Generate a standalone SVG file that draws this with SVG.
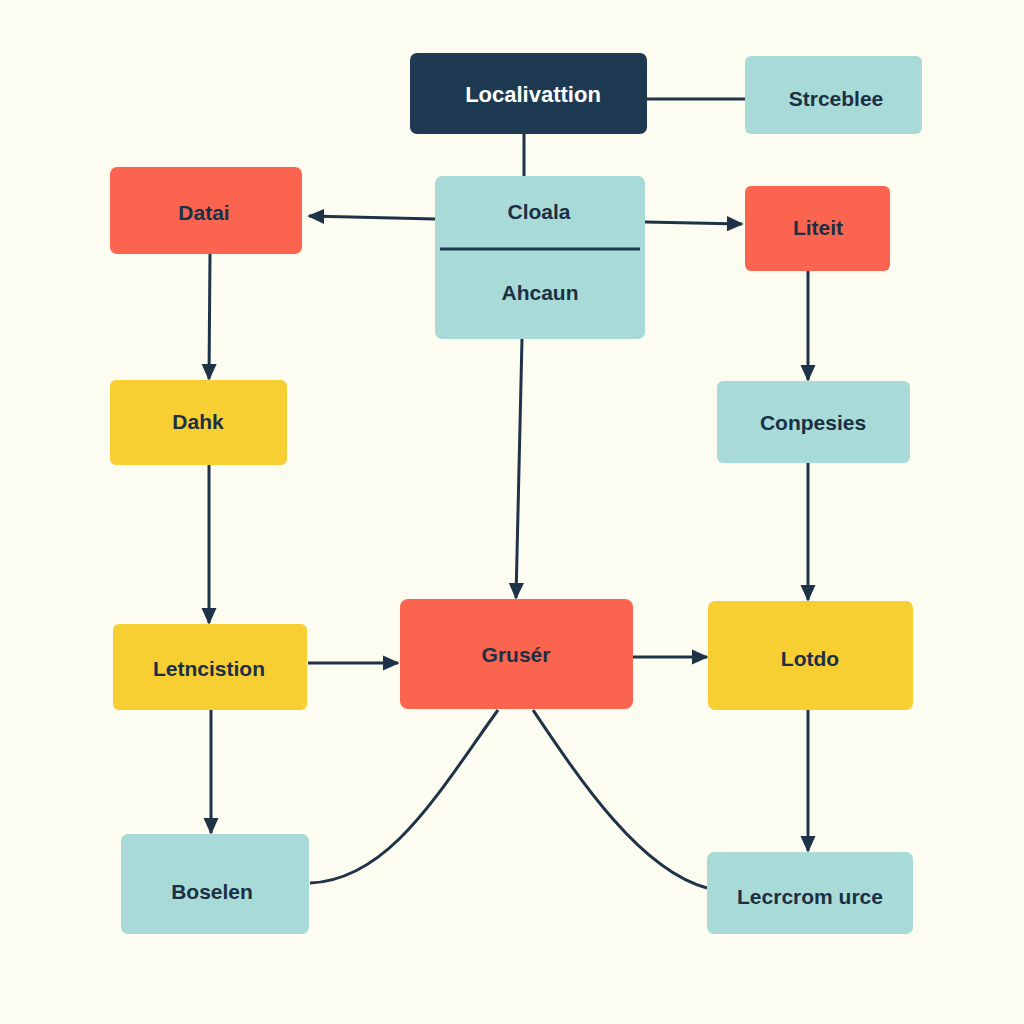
<svg xmlns="http://www.w3.org/2000/svg" width="1024" height="1024" viewBox="0 0 1024 1024">
<style>
.teal{fill:#a8dbd7}
.red{fill:#fb6550}
.yel{fill:#f8cf33}
.dark{fill:#1e3a52}
text{font-family:"Liberation Sans",Arial,sans-serif;font-weight:bold;font-size:21px;fill:#1b2f45;text-anchor:middle;dominant-baseline:central}
text.w{fill:#ffffff;font-size:22px}
.c{stroke:#1e3248;stroke-width:3;fill:none}
.a{marker-end:url(#ah)}
</style>
<defs>
<marker id="ah" viewBox="0 0 10 10" refX="9" refY="5" markerWidth="17" markerHeight="17" markerUnits="userSpaceOnUse" orient="auto">
<path d="M0,0.5 L10,5 L0,9.5 z" fill="#1e3248"/>
</marker>
</defs>
<rect width="1024" height="1024" fill="#fdfcf0"/>
<g id="connectors">
<line class="c" x1="647" y1="99" x2="745" y2="99"/>
<line class="c" x1="524" y1="134" x2="524" y2="176"/>
<line class="c a" x1="435" y1="219" x2="309" y2="216"/>
<line class="c a" x1="645" y1="222" x2="742" y2="224"/>
<line class="c a" x1="210" y1="254" x2="209" y2="379"/>
<line class="c a" x1="808" y1="271" x2="808" y2="380"/>
<line class="c a" x1="522" y1="339" x2="516" y2="598"/>
<line class="c a" x1="209" y1="465" x2="209" y2="623"/>
<line class="c a" x1="808" y1="463" x2="808" y2="600"/>
<line class="c a" x1="308" y1="663" x2="398" y2="663"/>
<line class="c a" x1="633" y1="657" x2="707" y2="657"/>
<line class="c a" x1="211" y1="710" x2="211" y2="833"/>
<line class="c a" x1="808" y1="710" x2="808" y2="851"/>
<path class="c" d="M498,710 C440,790 390,880 310,883"/>
<path class="c" d="M533,710 C580,780 640,870 707,888"/>
</g>
<g id="n-localivattion"><rect class="dark" x="410" y="53" width="237" height="81" rx="7"/><text class="w" x="533" y="94">Localivattion</text></g>
<g id="n-strceblee"><rect class="teal" x="745" y="56" width="177" height="78" rx="6"/><text x="836" y="98">Strceblee</text></g>
<g id="n-cloala"><rect class="teal" x="435" y="176" width="210" height="163" rx="7"/><line x1="440" y1="249" x2="640" y2="249" stroke="#1e3a52" stroke-width="3"/><text x="539" y="211">Cloala</text><text x="540" y="292">Ahcaun</text></g>
<g id="n-datai"><rect class="red" x="110" y="167" width="192" height="87" rx="7"/><text x="204" y="212">Datai</text></g>
<g id="n-liteit"><rect class="red" x="745" y="186" width="145" height="85" rx="6"/><text x="818" y="227">Liteit</text></g>
<g id="n-dahk"><rect class="yel" x="110" y="380" width="177" height="85" rx="6"/><text x="198" y="421">Dahk</text></g>
<g id="n-conpesies"><rect class="teal" x="717" y="381" width="193" height="82" rx="6"/><text x="813" y="422">Conpesies</text></g>
<g id="n-letncistion"><rect class="yel" x="113" y="624" width="194" height="86" rx="6"/><text x="209" y="668">Letncistion</text></g>
<g id="n-gruser"><rect class="red" x="400" y="599" width="233" height="110" rx="8"/><text x="516" y="654">Grusér</text></g>
<g id="n-lotdo"><rect class="yel" x="708" y="601" width="205" height="109" rx="7"/><text x="810" y="658">Lotdo</text></g>
<g id="n-boselen"><rect class="teal" x="121" y="834" width="188" height="100" rx="7"/><text x="212" y="891">Boselen</text></g>
<g id="n-lecrcrom"><rect class="teal" x="707" y="852" width="206" height="82" rx="7"/><text x="810" y="896">Lecrcrom urce</text></g>
</svg>
